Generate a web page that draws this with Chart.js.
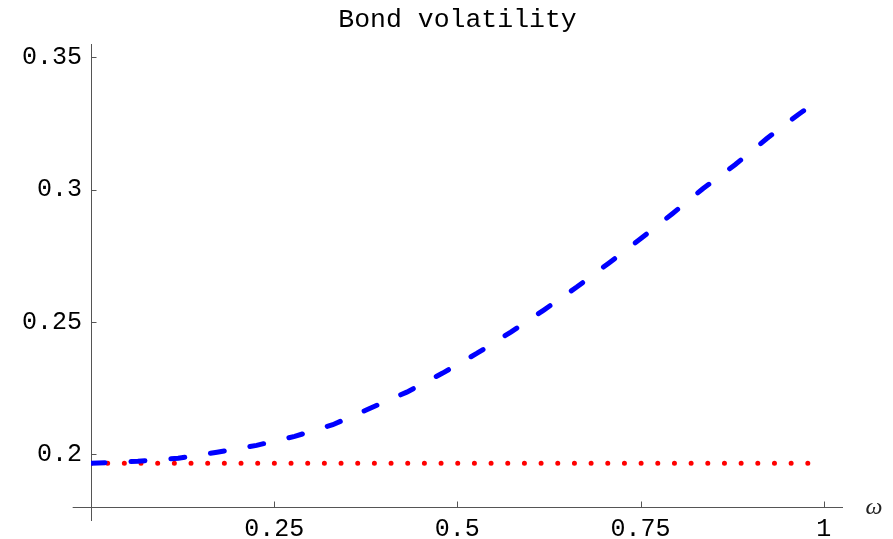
<!DOCTYPE html>
<html>
<head>
<meta charset="utf-8">
<script src="https://cdn.jsdelivr.net/npm/chart.js"></script>
<style>
  html, body { margin: 0; padding: 0; background: #fff; }
</style>
</head>
<body>
<canvas id="bondChart" width="893" height="539"></canvas>
<script>
// values
var omega = [0, 0.064, 0.119, 0.172, 0.226, 0.278, 0.330, 0.381, 0.431, 0.480, 0.527,
             0.573, 0.618, 0.663, 0.707, 0.750, 0.793, 0.835, 0.879, 0.922, 0.965, 0.98];
var bondVol = [0.1966, 0.1974, 0.1985, 0.2008, 0.2034, 0.2068, 0.2112, 0.2174, 0.2235, 0.2307, 0.2382,
               0.2462, 0.2545, 0.2632, 0.2723, 0.2814, 0.2908, 0.3003, 0.3094, 0.3192, 0.3283, 0.3312];
var flatVol = [0.1966, 0.1966, 0.1966, 0.1966, 0.1966, 0.1966, 0.1966, 0.1966, 0.1966, 0.1966, 0.1966,
               0.1966, 0.1966, 0.1966, 0.1966, 0.1966, 0.1966, 0.1966, 0.1966, 0.1966, 0.1966, 0.1966];

var xTickValues = [0.25, 0.5, 0.75, 1];
var xTickLabels = ["0.25", "0.5", "0.75", "1"];
var yTickValues = [0.2, 0.25, 0.3, 0.35];
var yTickLabels = ["0.2", "0.25", "0.3", "0.35"];

var axisColor = "#555";
var monoFont = '"Liberation Mono", "Courier New", monospace';

function toPoints(xs, ys) {
    return xs.map(function (x, i) { return { x: x, y: ys[i] }; });
}

// inward tick marks, short axis stub left of the y axis, and the omega label
var axisExtras = {
    id: "axisExtras",
    afterLayout: function (chart) {
        // y scale box was squeezed to 18px; widen its label clip area back to the edge
        chart.scales.y.left = 0;
    },
    afterDraw: function (chart) {
        var ctx = chart.ctx;
        var xs = chart.scales.x, ys = chart.scales.y;
        var ax = Math.round(xs.getPixelForValue(0)) + 0.5;
        var ay = Math.round(ys.getPixelForValue(0.18)) + 0.5;
        ctx.save();
        ctx.strokeStyle = axisColor;
        ctx.lineWidth = 1;
        ctx.beginPath();
        ctx.moveTo(xs.getPixelForValue(-0.025), ay);
        ctx.lineTo(ax, ay);
        xTickValues.forEach(function (v) {
            var px = Math.round(xs.getPixelForValue(v)) + 0.5;
            ctx.moveTo(px, ay);
            ctx.lineTo(px, ay - 6);
        });
        yTickValues.forEach(function (v) {
            var py = Math.round(ys.getPixelForValue(v)) + 0.5;
            ctx.moveTo(ax, py);
            ctx.lineTo(ax + 5, py);
        });
        ctx.stroke();
        ctx.fillStyle = "#222";
        ctx.font = 'italic 24px "Liberation Serif", serif';
        ctx.textAlign = "center";
        ctx.textBaseline = "middle";
        ctx.fillText("\u03C9", xs.right + 32, ay);
        ctx.restore();
    }
};

var ctx = document.getElementById("bondChart").getContext("2d");
var bondChart = new Chart(ctx, {
    type: "line",
    data: {
        datasets: [{
            label: "Bond volatility",
            data: toPoints(omega, bondVol),
            borderColor: "#0000ff",
            borderWidth: 5,
            borderDash: [14, 26],
            borderCapStyle: "round",
            pointRadius: 0,
            fill: false,
            order: 0
        }, {
            label: "Flat",
            data: toPoints(omega, flatVol),
            borderColor: "#ff0000",
            borderWidth: 5,
            borderDash: [0, 16.67],
            borderCapStyle: "round",
            pointRadius: 0,
            fill: false,
            order: 1
        }]
    },
    options: {
        responsive: false,
        animation: false,
        layout: { padding: { left: 73, right: 51, top: 0, bottom: 19 } },
        plugins: {
            legend: { display: false },
            tooltip: { enabled: false },
            title: {
                display: true,
                text: "Bond volatility",
                color: "#000",
                font: { family: monoFont, size: 26.5, weight: "normal" },
                padding: { top: 4, bottom: 9 }
            }
        },
        scales: {
            x: {
                type: "linear",
                min: 0,
                max: 1.025,
                position: { y: 0.18 },
                grid: { display: false, drawTicks: false },
                border: { display: true, color: axisColor, width: 1 },
                afterBuildTicks: function (s) { s.ticks = xTickValues.map(function (v) { return { value: v }; }); },
                ticks: {
                    color: "#000",
                    padding: 7,
                    maxRotation: 0,
                    font: { family: monoFont, size: 25 },
                    callback: function (v, i) { return xTickLabels[i]; }
                }
            },
            y: {
                type: "linear",
                min: 0.1752,
                max: 0.3547,
                position: "left",
                grid: { display: false, drawTicks: false },
                border: { display: true, color: axisColor, width: 1 },
                afterBuildTicks: function (s) { s.ticks = yTickValues.map(function (v) { return { value: v }; }); },
                // y axis sits at omega = 0; the x axis runs a little past it to the left
                afterFit: function (s) {
                    s.width = 18;
                    s.paddingTop = 0;
                    s.paddingBottom = 0;
                },
                ticks: {
                    color: "#000",
                    padding: 9,
                    font: { family: monoFont, size: 25 },
                    callback: function (v, i) { return yTickLabels[i]; }
                }
            }
        }
    },
    plugins: [axisExtras]
});
</script>
</body>
</html>
